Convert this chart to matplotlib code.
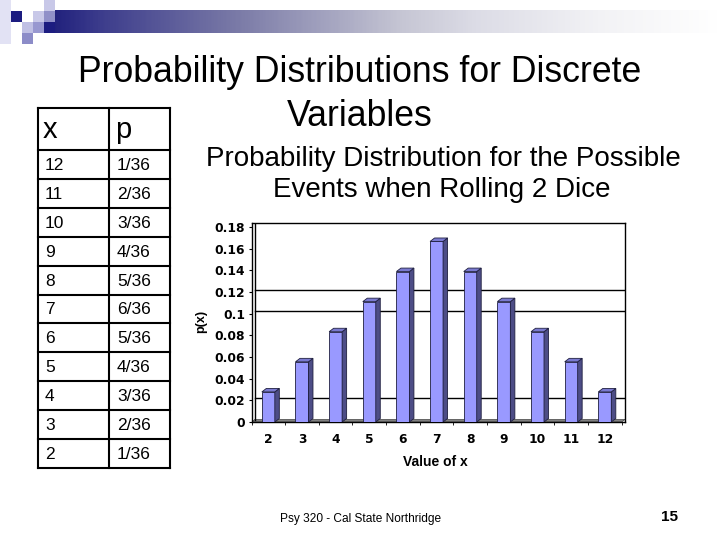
import matplotlib.pyplot as plt
import numpy as np
from matplotlib.patches import Rectangle, Polygon
from matplotlib.colors import LinearSegmentedColormap

plt.rcParams['font.family'] = ['Liberation Sans', 'DejaVu Sans']

# data
x_vals = [2, 3, 4, 5, 6, 7, 8, 9, 10, 11, 12]
counts = [1, 2, 3, 4, 5, 6, 5, 4, 3, 2, 1]
probs = np.array(counts) / 36

table_x = ['12', '11', '10', '9', '8', '7', '6', '5', '4', '3', '2']
table_p = ['1/36', '2/36', '3/36', '4/36', '5/36', '6/36', '5/36', '4/36', '3/36', '2/36', '1/36']

y_ticks = [0, 0.02, 0.04, 0.06, 0.08, 0.1, 0.12, 0.14, 0.16, 0.18]
y_labels = ['0', '0.02', '0.04', '0.06', '0.08', '0.1', '0.12', '0.14', '0.16', '0.18']
grid_vals = [0.02, 0.1, 0.12]

fig = plt.figure(figsize=(7.2, 5.4), dpi=100)

# slide layer in pixel coords
slide = fig.add_axes([0, 0, 1, 1])
slide.axis('off')

# top-left gradient bar + squares
cmap = LinearSegmentedColormap.from_list('bar', [
    (0.0, '#1c1c7a'), (0.08, '#3c3c8c'), (0.29, '#7c7ca8'), (0.53, '#c6c6d4'),
    (0.64, '#dcdce6'), (0.82, '#f2f2f5'), (1.0, '#ffffff')])
grad = np.linspace(0, 1, 400).reshape(1, -1)
slide.imshow(grad, cmap=cmap, extent=(44, 720, 33, 10), aspect='auto', zorder=1)

squares = [
    (0, 0, 11, 44, '#e2e2f4'),
    (11, 11, 11, 11, '#1c1c80'),
    (22, 22, 11, 11, '#c0c0e4'),
    (22, 33, 11, 11, '#8c8cc8'),
    (33, 11, 11, 11, '#c8c8e8'),
    (33, 22, 11, 11, '#9898d0'),
    (44, 0, 11, 11, '#c8c8e8'),
    (44, 11, 11, 11, '#9090c8'),
    (44, 22, 11, 11, '#1c1c80'),
]
for sx, sy, sw, sh, c in squares:
    slide.add_patch(Rectangle((sx, sy), sw, sh, facecolor=c, edgecolor='none', zorder=2))

# titles
slide.text(360, 82, 'Probability Distributions for Discrete', fontsize=25.7,
           ha='center', va='baseline')
slide.text(360, 126, 'Variables', fontsize=25.7, ha='center', va='baseline')
slide.text(443, 166, 'Probability Distribution for the Possible', fontsize=20,
           ha='center', va='baseline')
slide.text(442, 197, 'Events when Rolling 2 Dice', fontsize=20,
           ha='center', va='baseline')

# table
t_left, t_mid, t_right = 37.5, 109, 169.5
t_top, t_head = 107.5, 150
row_h = 28.9
n_rows = len(table_x)
t_bottom = t_head + row_h * n_rows
for yy in [t_top, t_head] + [t_head + row_h * (i + 1) for i in range(n_rows)]:
    slide.plot([t_left, t_right], [yy, yy], color='black', lw=1.5, solid_capstyle='projecting')
for xx in [t_left, t_mid, t_right]:
    slide.plot([xx, xx], [t_top, t_bottom], color='black', lw=1.5, solid_capstyle='projecting')
slide.text(43, (t_top + t_head) / 2 + 1, 'x', fontsize=21, ha='left', va='center')
slide.text(115, (t_top + t_head) / 2 + 1, 'p', fontsize=21, ha='left', va='center')
for i in range(n_rows):
    cy = t_head + row_h * (i + 0.5) + 1
    slide.text(45, cy, table_x[i], fontsize=12.5, ha='left', va='center')
    slide.text(117, cy, table_p[i], fontsize=12.5, ha='left', va='center')

# footer
slide.text(280, 522, 'Psy 320 - Cal State Northridge', fontsize=8.6, ha='left', va='baseline')
slide.text(670, 521, '15', fontsize=11, fontweight='bold', ha='center', va='baseline')

slide.set_xlim(0, 720)
slide.set_ylim(540, 0)

# chart
ax = fig.add_axes([251.5 / 720, 1 - 422 / 540, (625 - 251.5) / 720, (422 - 223) / 540])
ax.set_xlim(1.5, 12.6)
ax.set_ylim(0, 0.1837)

wall_dx, wall_dy = 0.1, 0.0023
bw = 0.386
ddx, ddy = 0.134, 0.0032

# floor and back wall lines
ax.add_patch(Polygon([(1.5, 0), (12.5, 0), (12.6, wall_dy), (1.6, wall_dy)],
                     closed=True, facecolor='#808080', edgecolor='#404040', lw=0.5, zorder=1))
ax.plot([1.6, 1.6], [wall_dy, 0.1837], color='black', lw=1, zorder=1)
for g in grid_vals:
    ax.plot([1.6, 12.6], [g + wall_dy, g + wall_dy], color='black', lw=1, zorder=1)

ax.bar(x_vals, probs, width=bw, color='#9999ff', edgecolor='#202040', lw=0.6, zorder=3)
for xv, p in zip(x_vals, probs):
    r = xv + bw / 2
    l = xv - bw / 2
    ax.add_patch(Polygon([(r, 0), (r + ddx, ddy), (r + ddx, p + ddy), (r, p)], closed=True,
                         facecolor='#4d4d86', edgecolor='#202040', lw=0.6, zorder=3))
    ax.add_patch(Polygon([(l, p), (r, p), (r + ddx, p + ddy), (l + ddx, p + ddy)], closed=True,
                         facecolor='#7a7ad0', edgecolor='#202040', lw=0.6, zorder=3))

for s in ax.spines.values():
    s.set_linewidth(1)
    s.set_color('black')

ax.set_yticks(y_ticks, y_labels)
ax.set_xticks(x_vals, [str(v) for v in x_vals])
ax.set_xticks(np.arange(1.5, 13, 1), minor=True)
ax.tick_params(axis='y', direction='out', length=2.5, pad=2)
ax.tick_params(axis='x', which='major', length=0, pad=8)
ax.tick_params(axis='x', which='minor', direction='out', length=2.5)
for lab in ax.get_xticklabels() + ax.get_yticklabels():
    lab.set_fontweight('bold')
    lab.set_family(['DejaVu Sans'])
    lab.set_fontsize(8.8)

ax.set_ylabel('p(x)', fontsize=9, fontweight='bold', va='center')
ax.yaxis.set_label_coords(-0.135, 0.505)
ax.set_xlabel('Value of x', fontsize=10, fontweight='bold', va='center')
ax.xaxis.set_label_coords(0.491, -0.201)

fig.savefig('out.png', dpi=100)
